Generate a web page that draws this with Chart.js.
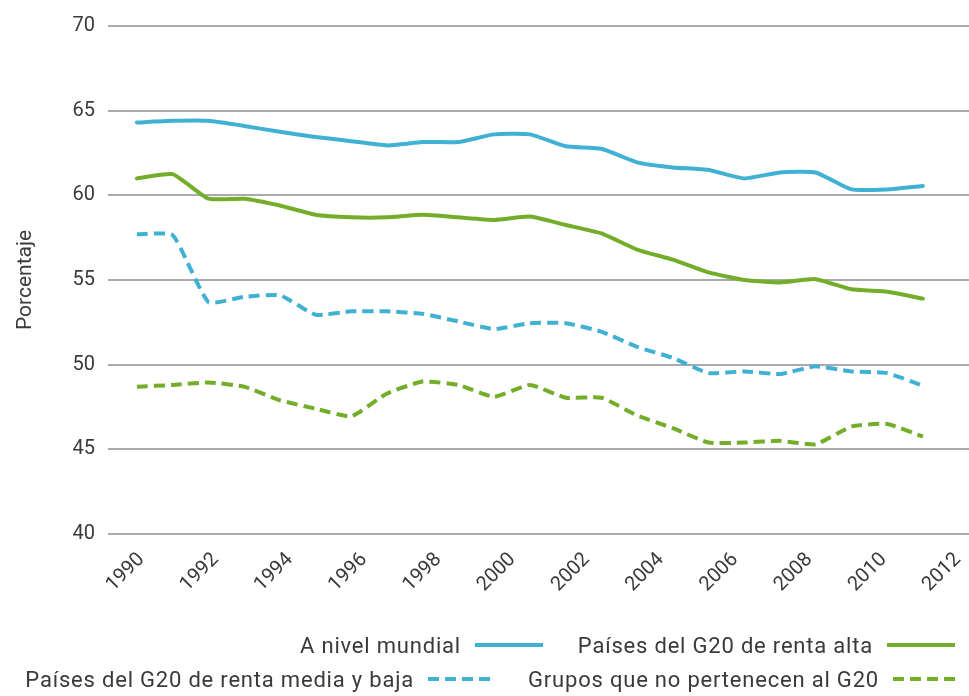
<!DOCTYPE html>
<html lang="es">
<head>
<meta charset="utf-8">
<title>Porcentaje 1990-2012</title>
<script src="https://cdn.jsdelivr.net/npm/chart.js@4.4.1/dist/chart.umd.min.js"></script>
<style>
    html, body { margin: 0; padding: 0; background: #ffffff; }
    #wrap { position: relative; width: 969px; height: 696px; }
    #chart { position: absolute; left: 0; top: 0; }
    .legend-item {
        position: absolute;
        display: flex;
        align-items: center;
        font-family: Roboto, "Liberation Sans", sans-serif;
        font-size: 22px;
        letter-spacing: 0.8px;
        color: #3a3a3a;
        white-space: nowrap;
        height: 30px;
    }
    .legend-item svg { margin-left: 14px; }
</style>
</head>
<body>
<div id="wrap">
    <canvas id="chart" width="969" height="696"></canvas>
    <div class="legend-item" id="leg-0" style="right: 426px; top: 630px;"></div>
    <div class="legend-item" id="leg-1" style="right: 14px; top: 630px;"></div>
    <div class="legend-item" id="leg-2" style="right: 479px; top: 664px;"></div>
    <div class="legend-item" id="leg-3" style="right: 14px; top: 664px;"></div>
</div>
<script>
// Data
const years = [1990, 1991, 1992, 1993, 1994, 1995, 1996, 1997, 1998, 1999, 2000,
               2001, 2002, 2003, 2004, 2005, 2006, 2007, 2008, 2009, 2010, 2011, 2012];
const mundial = [64.3, 64.4, 64.4, 64.1, 63.75, 63.45, 63.2, 62.95, 63.15, 63.15, 63.6,
                 63.6, 62.9, 62.75, 61.95, 61.65, 61.5, 61.0, 61.35, 61.35, 60.35, 60.35, 60.55];
const g20Alta = [61.0, 61.25, 59.8, 59.8, 59.4, 58.85, 58.7, 58.7, 58.85, 58.7, 58.55,
                 58.75, 58.25, 57.75, 56.8, 56.2, 55.45, 55.0, 54.85, 55.05, 54.45, 54.3, 53.9];
const g20MediaBaja = [57.7, 57.65, 53.7, 54.0, 54.1, 52.95, 53.15, 53.15, 53.0, 52.55, 52.1,
                      52.45, 52.45, 51.95, 51.05, 50.4, 49.5, 49.6, 49.45, 49.9, 49.6, 49.5, 48.75];
const noG20 = [48.7, 48.8, 48.95, 48.7, 47.9, 47.4, 46.95, 48.3, 49.0, 48.8, 48.1,
               48.8, 48.05, 48.05, 47.0, 46.25, 45.4, 45.4, 45.5, 45.3, 46.35, 46.5, 45.75];
const yTicks = [40, 45, 50, 55, 60, 65, 70];
const xTickLabels = [1990, 1992, 1994, 1996, 1998, 2000, 2002, 2004, 2006, 2008, 2010, 2012];

const legendNames = [
    'A nivel mundial',
    'Países del G20 de renta alta',
    'Países del G20 de renta media y baja',
    'Grupos que no pertenecen al G20'
];

const BLUE = '#40b1d3';
const GREEN = '#74ad2a';
const DASH = [11, 6];
const FONT = 'Roboto, "Liberation Sans", sans-serif';

function toPoints(values) {
    return years.map((y, i) => ({ x: y, y: values[i] }));
}

const seriesDefs = [
    { data: mundial, color: BLUE, dash: [] },
    { data: g20Alta, color: GREEN, dash: [] },
    { data: g20MediaBaja, color: BLUE, dash: DASH },
    { data: noG20, color: GREEN, dash: DASH }
];

const datasets = seriesDefs.map((s, i) => ({
    label: legendNames[i],
    data: toPoints(s.data),
    borderColor: s.color,
    backgroundColor: s.color,
    borderWidth: 4,
    borderDash: s.dash,
    borderJoinStyle: 'round',
    borderCapStyle: s.dash.length ? 'butt' : 'round',
    tension: 0.15,
    pointRadius: 0,
    fill: false,
    xAxisID: 'x',
    yAxisID: 'y'
}));

// Build the HTML legend (text first, then the line sample)
seriesDefs.forEach((s, i) => {
    const el = document.getElementById('leg-' + i);
    const w = s.dash.length ? 62 : 68;
    const dash = s.dash.length ? ` stroke-dasharray="${s.dash.join(' ')}"` : '';
    el.innerHTML = `<span>${legendNames[i]}</span>` +
        `<svg width="${w}" height="10"><line x1="0" y1="5" x2="${w}" y2="5" stroke="${s.color}" stroke-width="4"${dash}/></svg>`;
});

function noSidePadding(scale) {
    scale.paddingLeft = 0;
    scale.paddingRight = 0;
}

new Chart(document.getElementById('chart'), {
    type: 'line',
    data: { datasets: datasets },
    options: {
        responsive: false,
        animation: false,
        layout: { padding: { top: 26, right: 0, bottom: 92, left: 0 } },
        plugins: {
            legend: { display: false },
            tooltip: { enabled: false }
        },
        scales: {
            // data axis (hidden), one point per year
            x: {
                type: 'linear',
                display: false,
                min: 1989.19,
                max: 2013.29,
                afterFit: noSidePadding
            },
            // label axis, the printed years are spaced a bit wider than the data
            x2: {
                type: 'linear',
                position: 'bottom',
                min: 1989.1,
                max: 2012.3,
                grid: { display: false, drawTicks: false },
                border: { display: false },
                afterBuildTicks: function(scale) {
                    scale.ticks = xTickLabels.map(v => ({ value: v }));
                },
                afterFit: function(scale) {
                    scale.height = 70;
                    noSidePadding(scale);
                },
                ticks: {
                    autoSkip: false,
                    minRotation: 45,
                    maxRotation: 45,
                    padding: 14,
                    color: '#3a3a3a',
                    font: { family: FONT, size: 20 },
                    callback: function(value) { return String(value); }
                }
            },
            y: {
                type: 'linear',
                min: 40,
                max: 70,
                afterBuildTicks: function(scale) {
                    scale.ticks = yTicks.map(v => ({ value: v }));
                },
                afterFit: function(scale) { scale.width = 108; },
                grid: { color: '#aaaaaa', lineWidth: 2, drawTicks: false },
                border: { display: false },
                ticks: {
                    padding: 13,
                    color: '#3a3a3a',
                    font: { family: FONT, size: 20 }
                },
                title: {
                    display: true,
                    text: 'Porcentaje',
                    color: '#3a3a3a',
                    font: { family: FONT, size: 21 },
                    padding: { top: 13, bottom: 0 }
                }
            }
        }
    }
});
</script>
</body>
</html>
